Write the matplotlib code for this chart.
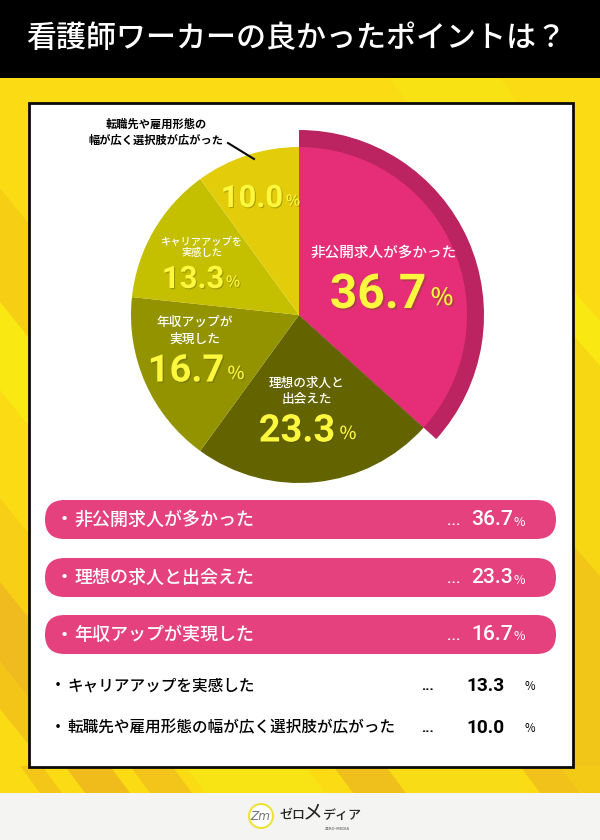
import matplotlib
matplotlib.use("Agg")
import matplotlib.pyplot as plt
import matplotlib.patheffects as pe
from matplotlib.patches import Rectangle, FancyBboxPatch, Circle, Polygon
import numpy as np

JP = ['Noto Sans CJK JP', 'DejaVu Sans']
NUM = ['Roboto', 'DejaVu Sans']

title = "看護師ワーカーの良かったポイントは？"
categories = ["非公開求人が多かった", "理想の求人と出会えた", "年収アップが実現した",
              "キャリアアップを実感した", "転職先や雇用形態の幅が広く選択肢が広がった"]
values = [36.7, 23.3, 16.7, 13.3, 10.0]
slice_colors = ["#E62E78", "#636300", "#939300", "#C4C000", "#E3CD0B"]
band_color = "#BC2361"
pie_labels = ["非公開求人が多かった", "理想の求人と\n出会えた", "年収アップが\n実現した",
              "キャリアアップを\n実感した", "転職先や雇用形態の\n幅が広く選択肢が広がった"]

W, H = 600, 840
fig = plt.figure(figsize=(6, 8.4), dpi=100)
ax = fig.add_axes([0, 0, 1, 1])
Y = lambda y: H - y
def T(x, y, s, size, color='k', weight='bold', ha='center', fam=JP, **kw):
    return ax.text(x, Y(y), s, fontsize=size * 0.72, color=color, fontweight=weight,
                   ha=ha, va='center', family=fam, **kw)

# background: yellow base with soft diagonal bands in the margins around the panel
ax.add_patch(Rectangle((0, 0), W, H, fc="#FBDC14", ec='none', zorder=0))
left_bands = [(206, 320, "#F6CF14"), (320, 408, "#F9E812"), (516, 600, "#F6CF16"),
              (600, 680, "#EFBB1E"), (680, 727, "#F3C518")]
right_bands = [(305, 350, "#F9E812"), (350, 560, "#F7D614"), (560, 800, "#F2C618")]
bottom_bands = [(20, 22, "#F4C618"), (65, 45, "#EFBC1C"), (130, 42, "#F3C41A"), (185, 120, "#F8E414"),
                (333, 53, "#EFBF1C"), (386, 124, "#F8DC16"), (520, 40, "#F1C21A"), (560, 60, "#F3CB17")]
top_bands = [(390, 110, "#F9E214")]
for y0, y1, c in left_bands:
    ax.add_patch(Polygon([(0, Y(y0 - 18)), (29, Y(y0 + 18)), (29, Y(y1 + 18)), (0, Y(y1 - 18))],
                         fc=c, ec='none', zorder=0.5))
for y0, y1, c in right_bands:
    ax.add_patch(Polygon([(572, Y(y0 - 16)), (600, Y(y0 + 16)), (600, Y(y1 + 16)), (572, Y(y1 - 16))],
                         fc=c, ec='none', zorder=0.5))
for x0, w, c in bottom_bands:
    ax.add_patch(Polygon([(x0, Y(766)), (x0 + w, Y(766)), (x0 + w + 20, Y(793)), (x0 + 20, Y(793))],
                         fc=c, ec='none', zorder=0.6))
for x0, w, c in top_bands:
    ax.add_patch(Polygon([(x0, Y(78)), (x0 + w, Y(78)), (x0 + w + 18, Y(103)), (x0 + 18, Y(103))],
                         fc=c, ec='none', zorder=0.6))
ax.add_patch(Rectangle((0, Y(78)), W, 78, fc='black', ec='none', zorder=1))
ax.add_patch(Rectangle((0, 0), W, 47, fc="#F4F4F2", ec='none', zorder=1))
ax.add_patch(Rectangle((28.5, Y(766.5)), 544.5, 664, fc='white', ec='#0A0A0A', lw=2.0, zorder=2))

T(296, 38, title, 30, color='white', weight='medium', zorder=5)

# pie
cx, cy = 299, Y(315)
ax.pie([values[0], 100 - values[0]], colors=[band_color, 'none'], startangle=90, counterclock=False,
       radius=185, center=(cx, cy), frame=False, wedgeprops=dict(lw=0, zorder=3))
ax.pie(values, colors=slice_colors, startangle=90, counterclock=False,
       radius=168, center=(cx, cy), frame=False, wedgeprops=dict(lw=0, zorder=3.1))
ax.set_xlim(0, W)
ax.set_ylim(0, H)
ax.set_aspect('auto')
ax.axis('off')

YEL = '#FDF83E'
def pct(xn, xp, y, v, ns, ps, off=1.0):
    fx = [pe.SimplePatchShadow(offset=(off, -off), shadow_rgbFace='#555500', alpha=0.35), pe.Normal()]
    t = T(xn, y, f"{v:.1f}", ns, color=YEL, fam=NUM, zorder=6)
    t.set_path_effects(fx)
    t2 = T(xp, y + 3, "%", ps, color=YEL, weight='medium', fam=JP, zorder=6)
    t2.set_path_effects(fx)

T(384, 253, pie_labels[0], 14.6, color='white', weight='medium', zorder=6)
pct(378, 442, 295, values[0], 48, 24, 1.3)
T(307, 391, pie_labels[1], 12.6, color='white', weight='medium', zorder=6, linespacing=1.3)
pct(297, 348, 431, values[1], 38, 18)
T(195, 331, pie_labels[2], 12.7, color='white', weight='medium', zorder=6, linespacing=1.35)
pct(186, 236, 371, values[2], 38, 18)
T(202, 247, pie_labels[3], 10.2, color='white', weight='medium', zorder=6, linespacing=1.35)
pct(193, 233, 279, values[3], 31, 15, 0.8)
pct(252, 293, 198, values[4], 31, 15, 0.8)
T(156, 132, pie_labels[4], 11.2, weight='bold', zorder=6, linespacing=1.3)
ax.plot([228, 254], [Y(143), Y(159)], color='#0A0A0A', lw=1.5, zorder=6)

# legend rows
pill_y = [500, 558, 615]
for i, y in enumerate(pill_y):
    h = 39
    ax.add_patch(FancyBboxPatch((45, Y(y + h)), 511, h,
                                boxstyle="round,pad=0,rounding_size=19.5",
                                fc="#E5417E", ec='none', zorder=3))
    ym = y + 19.5
    T(64, ym, "・", 17, color='white', zorder=6)
    T(74, ym, categories[i], 18, color='white', weight='medium', ha='left', zorder=6)
    T(454, ym + 1, "...", 16, color='white', weight='medium', fam=NUM, zorder=6)
    T(471, ym, f"{values[i]:.1f}", 21, color='white', weight='medium', ha='left', fam=NUM, zorder=6)
    T(519, ym + 2.5, "%", 12.5, color='white', weight='normal', zorder=6)
for i, y in zip([3, 4], [686, 728]):
    T(58, y, "・", 14, zorder=6)
    T(67, y, categories[i], 15.6, weight='medium', ha='left', zorder=6)
    T(427, y, "...", 15, fam=NUM, zorder=6)
    T(485, y, f"{values[i]:.1f}", 19, ha='center', fam=NUM, zorder=6)
    T(530, y + 1, "%", 11.5, weight='normal', zorder=6)

# logo
ax.add_patch(Circle((261, Y(816)), 12, fc='white', ec='#EFE23A', lw=1.5, zorder=5))
T(260, 816, "Zm", 12, color='#777777', weight='normal', fam=['DejaVu Sans'], style='italic', zorder=6)
T(292, 815, "ゼロ", 13, color='#222222', weight='medium', zorder=6)
T(313, 813, "メ", 20, color='#222222', weight='normal', zorder=6)
T(342, 815, "ディア", 13, color='#222222', weight='medium', zorder=6)
T(337, 829, "ZERO-MEDIA", 3.5, color='#888888', zorder=6, fam=['DejaVu Sans'])

fig.savefig("out.png", dpi=100)
